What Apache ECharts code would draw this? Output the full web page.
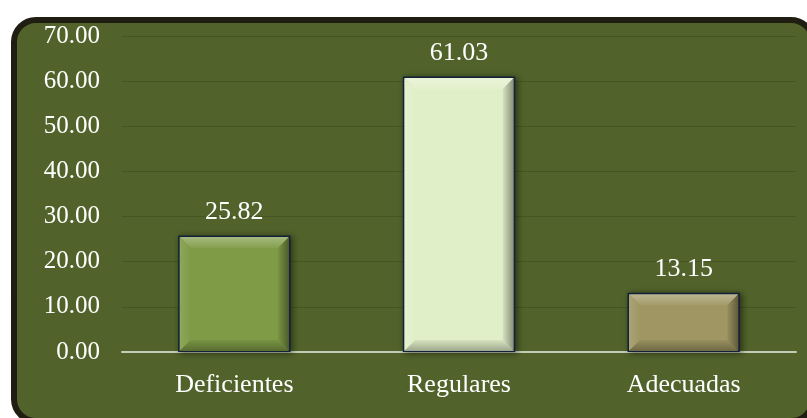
<!DOCTYPE html>
<html>
<head>
<meta charset="utf-8">
<script src="https://cdn.jsdelivr.net/npm/echarts@6/dist/echarts.min.js"></script>
<style>
  html, body { margin: 0; padding: 0; background: #ffffff; }
  #chart { width: 807px; height: 418px; }
</style>
</head>
<body>
<div id="chart"></div>
<script>
// Categories and percentages
const categories = ['Deficientes', 'Regulares', 'Adecuadas'];
const values = [25.82, 61.03, 13.15];
const barColors = ['#7f9b46', '#e1efc9', '#9f9663'];

const FONT = "'Liberation Serif', 'DejaVu Serif', serif";
const chart = echarts.init(document.getElementById('chart'));

// Mix a hex colour towards white (k > 0) or black (k < 0)
function shade(hex, k) {
  const n = parseInt(hex.slice(1), 16);
  const ch = [(n >> 16) & 255, (n >> 8) & 255, n & 255].map(c =>
    Math.round(k >= 0 ? c + (255 - c) * k : c * (1 + k)));
  return 'rgb(' + ch.join(',') + ')';
}

// Bevelled edges drawn over each bar
function renderBevel(params, api) {
  const idx = api.value(0);
  const v = api.value(1);
  const top = api.coord([idx, v]);
  const base = api.coord([idx, 0]);
  const band = api.size([1, 0])[0];
  const w = band * 0.5;
  const x0 = top[0] - w / 2 + 1.5, x1 = top[0] + w / 2 - 1.5;
  const y0 = top[1] + 1.5, y1 = base[1] - 1;
  const b = Math.min(11, (y1 - y0) / 3);
  const col = barColors[idx];
  const g = (c1, c2, x, y, x2, y2) => ({
    type: 'linear', x: x, y: y, x2: x2, y2: y2,
    colorStops: [{ offset: 0, color: c1 }, { offset: 1, color: c2 }]
  });
  return {
    type: 'group',
    silent: true,
    children: [
      { type: 'polygon', shape: { points: [[x0, y0], [x1, y0], [x1 - b, y0 + b], [x0 + b, y0 + b]] },
        style: { fill: g(shade(col, 0.3), shade(col, 0.05), 0, 0, 0, 1) } },
      { type: 'polygon', shape: { points: [[x0, y0], [x0 + b, y0 + b], [x0 + b, y1 - b], [x0, y1]] },
        style: { fill: g(shade(col, 0.12), col, 0, 0, 1, 0) } },
      { type: 'polygon', shape: { points: [[x1, y0], [x1, y1], [x1 - b, y1 - b], [x1 - b, y0 + b]] },
        style: { fill: g(shade(col, -0.05), shade(col, -0.4), 0, 0, 1, 0) } },
      { type: 'polygon', shape: { points: [[x0, y1], [x0 + b, y1 - b], [x1 - b, y1 - b], [x1, y1]] },
        style: { fill: g(shade(col, -0.05), shade(col, -0.3), 0, 0, 0, 1) } }
    ]
  };
}

chart.setOption({
  animation: false,
  graphic: [{
    type: 'rect',
    z: -10,
    shape: { x: 14, y: 20, width: 799, height: 401, r: 22 },
    style: { fill: '#51632b', stroke: '#201e12', lineWidth: 6 }
  }],
  grid: { left: 122, right: 11, top: 36, bottom: 66 },
  xAxis: {
    type: 'category',
    data: categories,
    axisTick: { show: false },
    axisLine: { lineStyle: { color: '#c5ccb6', width: 2 } },
    axisLabel: {
      color: '#ffffff',
      fontFamily: FONT,
      fontSize: 26,
      margin: 20
    }
  },
  yAxis: {
    type: 'value',
    min: 0, max: 70, interval: 10,
    axisLine: { show: false },
    axisTick: { show: false },
    splitLine: { lineStyle: { color: '#435723', width: 1 } },
    axisLabel: {
      color: '#ffffff',
      fontFamily: FONT,
      fontSize: 25,
      margin: 22,
      formatter: v => v.toFixed(2)
    }
  },
  series: [{
    type: 'bar',
    data: values.map((v, i) => ({ value: v, itemStyle: { color: barColors[i] } })),
    barWidth: '50%',
    itemStyle: {
      borderColor: '#13203a',
      borderWidth: 2.5,
      shadowColor: 'rgba(0,0,0,0.45)',
      shadowBlur: 6,
      shadowOffsetX: 2,
      shadowOffsetY: 1
    },
    label: {
      show: true,
      position: 'top',
      distance: 10,
      color: '#ffffff',
      fontFamily: FONT,
      fontSize: 26,
      formatter: p => p.value.toFixed(2)
    }
  }, {
    type: 'custom',
    renderItem: renderBevel,
    data: values.map((v, i) => [i, v]),
    z: 3
  }]
});
</script>
</body>
</html>
